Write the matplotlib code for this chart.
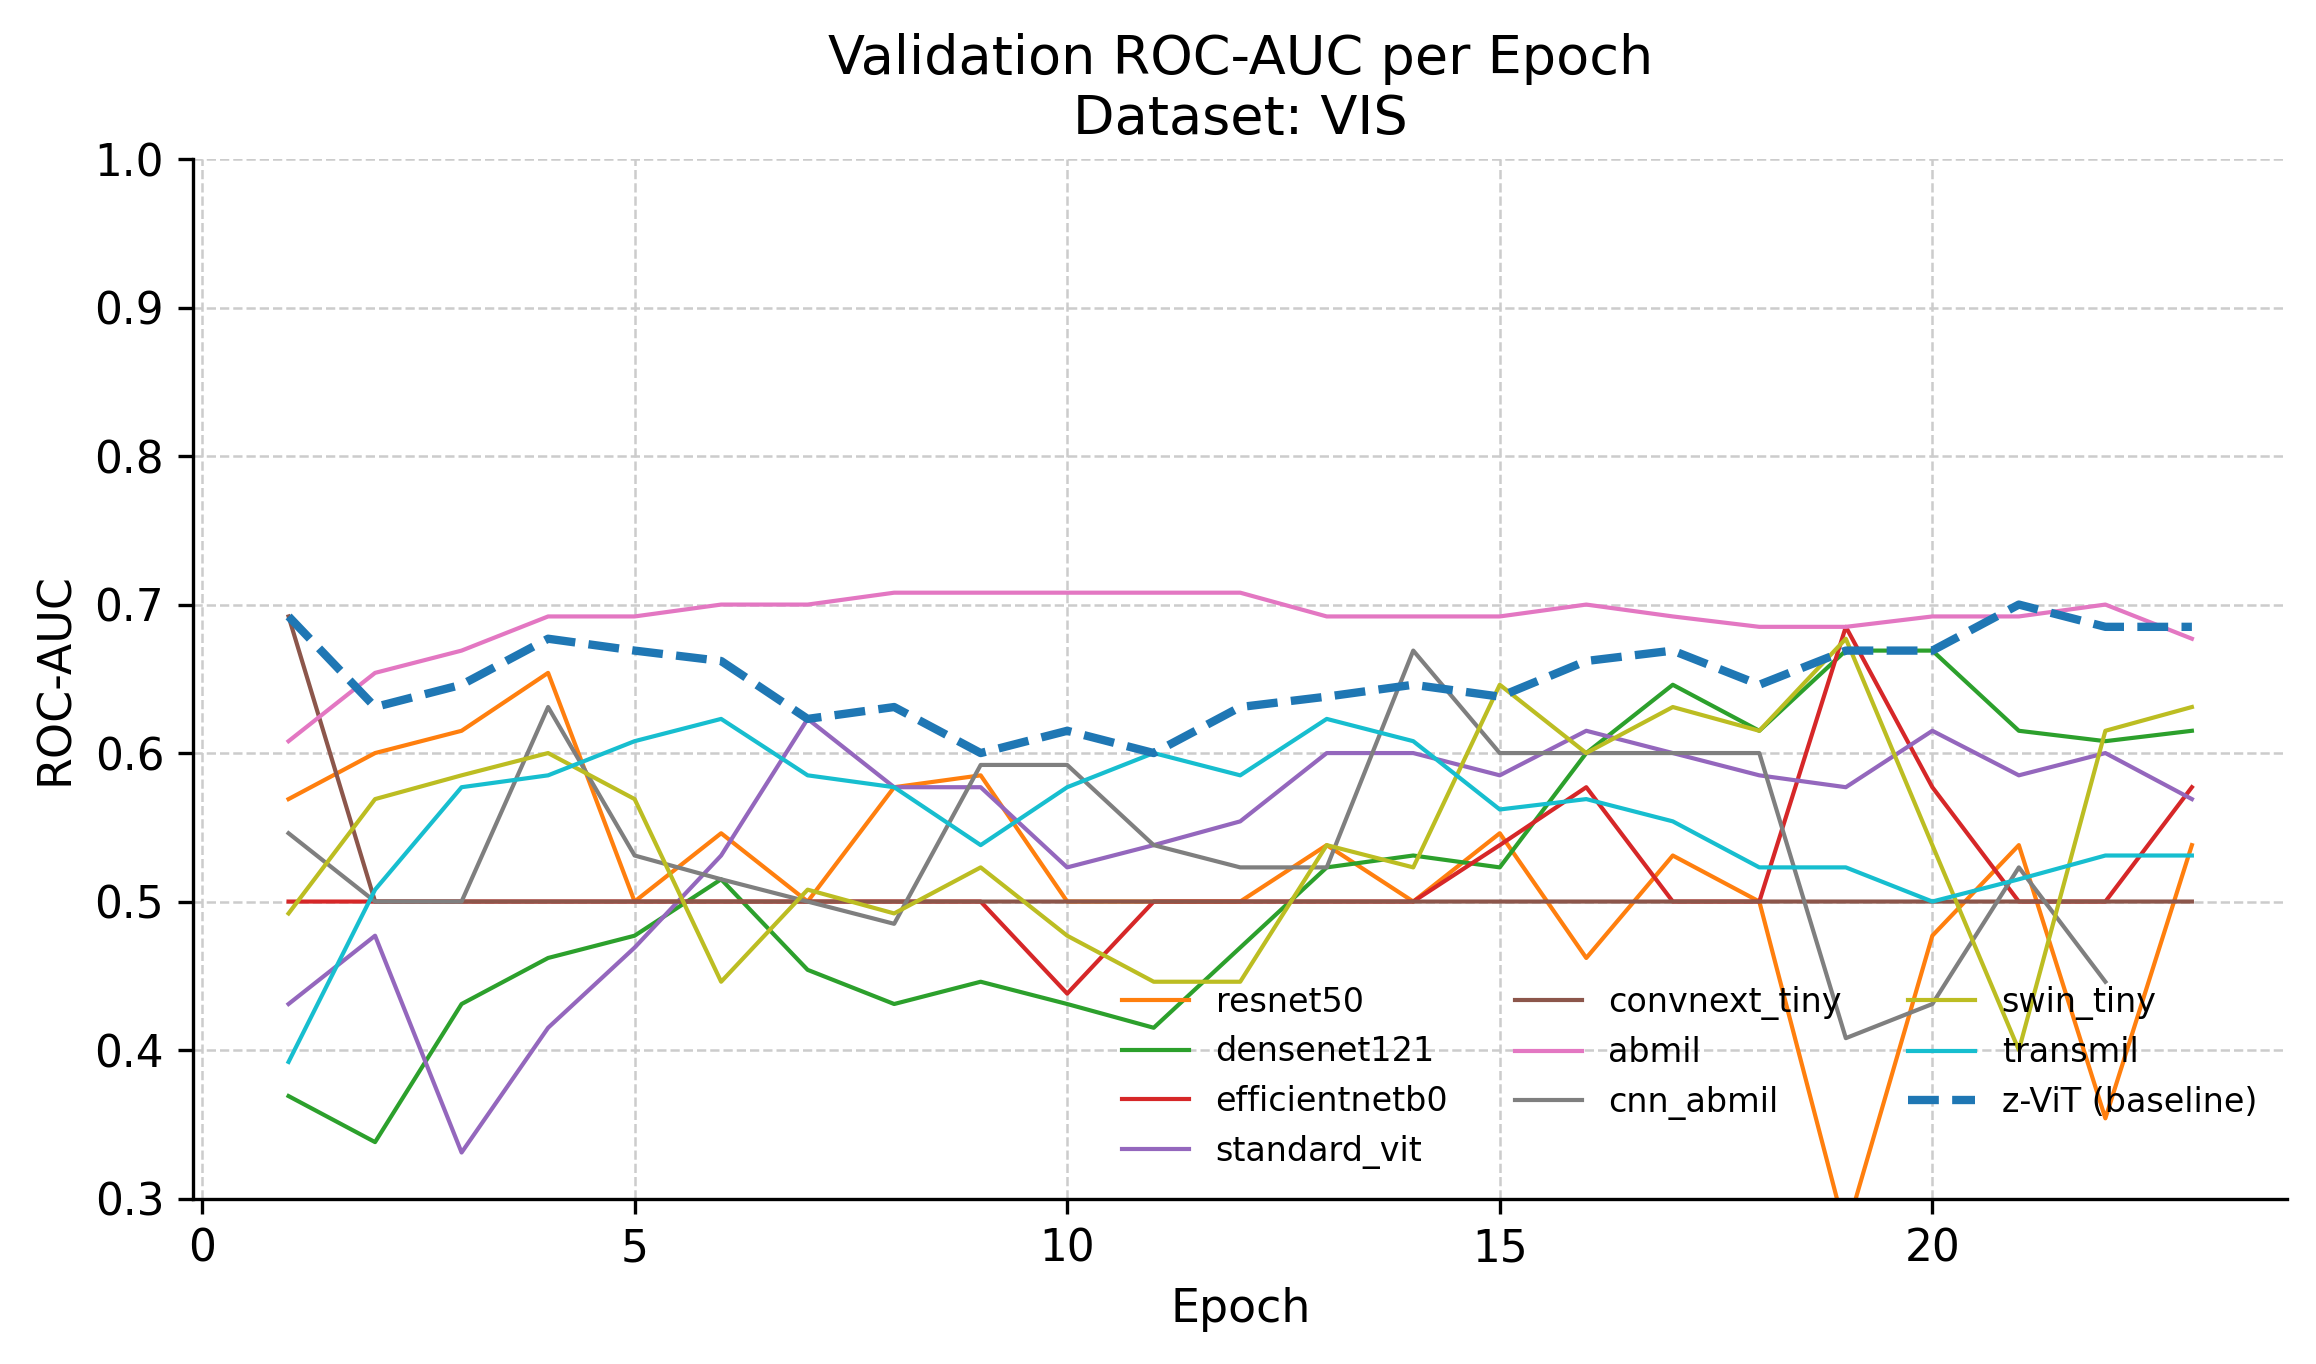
import matplotlib
matplotlib.use("Agg")
import matplotlib.pyplot as plt
import numpy as np

epochs = list(range(1, 24))

resnet50 = [0.569, 0.600, 0.615, 0.654, 0.500, 0.546, 0.500, 0.577, 0.585, 0.500,
            0.500, 0.500, 0.538, 0.500, 0.546, 0.462, 0.531, 0.500, 0.277, 0.477,
            0.538, 0.354, 0.538]
densenet121 = [0.369, 0.338, 0.431, 0.462, 0.477, 0.515, 0.454, 0.431, 0.446, 0.431,
               0.415, 0.469, 0.523, 0.531, 0.523, 0.600, 0.646, 0.615, 0.669, 0.669,
               0.615, 0.608, 0.615]
efficientnetb0 = [0.500, 0.500, 0.500, 0.500, 0.500, 0.500, 0.500, 0.500, 0.500, 0.438,
                  0.500, 0.500, 0.500, 0.500, 0.538, 0.577, 0.500, 0.500, 0.685, 0.577,
                  0.500, 0.500, 0.577]
standard_vit = [0.431, 0.477, 0.331, 0.415, 0.469, 0.531, 0.623, 0.577, 0.577, 0.523,
                0.538, 0.554, 0.600, 0.600, 0.585, 0.615, 0.600, 0.585, 0.577, 0.615,
                0.585, 0.600, 0.569]
convnext_tiny = [0.692, 0.500, 0.500, 0.500, 0.500, 0.500, 0.500, 0.500, 0.500, 0.500,
                 0.500, 0.500, 0.500, 0.500, 0.500, 0.500, 0.500, 0.500, 0.500, 0.500,
                 0.500, 0.500, 0.500]
abmil = [0.608, 0.654, 0.669, 0.692, 0.692, 0.700, 0.700, 0.708, 0.708, 0.708,
         0.708, 0.708, 0.692, 0.692, 0.692, 0.700, 0.692, 0.685, 0.685, 0.692,
         0.692, 0.700, 0.677]
cnn_abmil = [0.546, 0.500, 0.500, 0.631, 0.531, 0.515, 0.500, 0.485, 0.592, 0.592,
             0.538, 0.523, 0.523, 0.669, 0.600, 0.600, 0.600, 0.600, 0.408, 0.431,
             0.523, 0.446]
swin_tiny = [0.492, 0.569, 0.585, 0.600, 0.569, 0.446, 0.508, 0.492, 0.523, 0.477,
             0.446, 0.446, 0.538, 0.523, 0.646, 0.600, 0.631, 0.615, 0.677, 0.538,
             0.400, 0.615, 0.631]
transmil = [0.392, 0.508, 0.577, 0.585, 0.608, 0.623, 0.585, 0.577, 0.538, 0.577,
            0.600, 0.585, 0.623, 0.608, 0.562, 0.569, 0.554, 0.523, 0.523, 0.500,
            0.515, 0.531, 0.531]
zvit = [0.692, 0.631, 0.646, 0.677, 0.669, 0.662, 0.623, 0.631, 0.600, 0.615,
        0.600, 0.631, 0.638, 0.646, 0.638, 0.662, 0.669, 0.646, 0.669, 0.669,
        0.700, 0.685, 0.685]

models = ["resnet50", "densenet121", "efficientnetb0", "standard_vit", "convnext_tiny",
          "abmil", "cnn_abmil", "swin_tiny", "transmil"]
series = [resnet50, densenet121, efficientnetb0, standard_vit, convnext_tiny,
          abmil, cnn_abmil, swin_tiny, transmil]
colors = ["tab:orange", "tab:green", "tab:red", "tab:purple", "tab:brown",
          "tab:pink", "tab:gray", "tab:olive", "tab:cyan"]

fig = plt.figure(figsize=(7.72, 4.547), dpi=300)
ax = fig.add_axes([0.0835, 0.1213, 0.904, 0.762])

for name, vals, c in zip(models, series, colors):
    ax.plot(epochs[:len(vals)], vals, color=c, linewidth=1.0, label=name)
ax.plot(epochs, zvit, color="tab:blue", linewidth=2.0, linestyle="--",
        label="z-ViT (baseline)")

ax.set_ylim(0.3, 1.0)
ax.set_title("Validation ROC-AUC per Epoch\nDataset: VIS", fontsize=13)
ax.set_xlabel("Epoch", fontsize=11)
ax.set_ylabel("ROC-AUC", fontsize=11)
ax.tick_params(labelsize=10.5)
ax.grid(True, linestyle="--", color="#cccccc", linewidth=0.6)
ax.set_axisbelow(True)
ax.spines["top"].set_visible(False)
ax.spines["right"].set_visible(False)
ax.legend(ncol=3, loc="lower right", frameon=False, fontsize=8)

fig.savefig("out.png", dpi=300)
